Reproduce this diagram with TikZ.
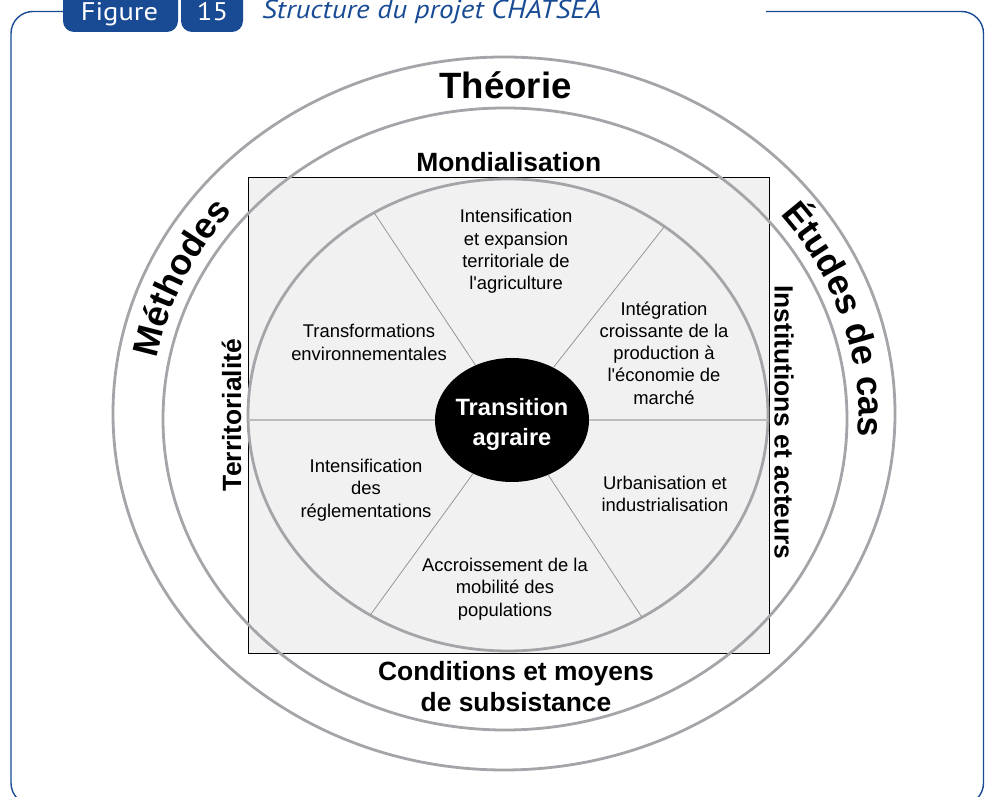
\documentclass[tikz,border=0pt]{standalone}
\usepackage{fontspec}
\usepackage{tikz}
\usetikzlibrary{shapes.geometric,decorations.text}
\newfontfamily\arialfont{Liberation Sans}
\newfontfamily\tabfont{PT Sans}[FakeStretch=1.12]
\definecolor{tabblue}{RGB}{24,75,148}
\definecolor{ringgray}{RGB}{163,165,168}
\definecolor{spokegray}{RGB}{150,150,150}
\definecolor{divgray}{RGB}{188,188,190}
\definecolor{boxgray}{RGB}{242,241,242}
\newcommand\bodyfont{\arialfont\fontsize{18.4}{22.3}\selectfont}
\newcommand\ringfont{\arialfont\bfseries\fontsize{36}{40}\selectfont}
\begin{document}
\begin{tikzpicture}[x=1pt,y=1pt,
  frame/.style={draw=tabblue,line width=1.4pt,rounded corners=22pt},
  tabtext/.style={text=white,font=\tabfont\fontsize{25.5}{30}\selectfont,inner sep=0pt},
  figtitle/.style={text=tabblue,font=\tabfont\itshape\fontsize{26}{28}\selectfont,inner sep=0pt},
  ring/.style={draw=ringgray,line width=2.8pt},
  spoke/.style={draw=spokegray,line width=0.8pt},
  divider/.style={draw=divgray,line width=1.6pt},
  hub/.style={ellipse,fill=black,minimum width=154pt,minimum height=124pt,inner sep=0pt},
  hubtext/.style={text=white,align=center,inner sep=0pt,font=\arialfont\bfseries\fontsize{23.6}{29.5}\selectfont},
  theme/.style={align=center,font=\bodyfont,inner sep=0pt},
  axislabel/.style={align=center,inner sep=0pt,font=\arialfont\bfseries\fontsize{26.4}{31}\selectfont},
  ringtext/.style={decorate,decoration={text along path,text align=center,text={|\ringfont|#1}}}]
\useasboundingbox (0,0) rectangle (985,797);
\draw[frame] (63,785.5) -- (11,785.5) -- (11,-8) -- (983.5,-8) -- (983.5,785.5) -- (766,785.5);
\fill[tabblue,rounded corners=11pt] (63,815) rectangle (178,765);
\fill[tabblue,rounded corners=11pt] (181,815) rectangle (243,765);
\node[tabtext,anchor=base] (fig) at (119.5,776) {Figure};
\node[tabtext,anchor=base] (num) at (212.5,776) {15};
\node[figtitle,anchor=base west] (ttl) at (262,778) {Structure du projet CHATSEA};
\draw[fill=boxgray,line width=1pt] (248,143) rectangle (769,619);
\draw[ring] (504,383.5) ellipse [x radius=391,y radius=356.5];
\draw[ring] (505,378) ellipse [x radius=342,y radius=311];
\draw[ring] (508,382) ellipse [x radius=260,y radius=236];
\node[hub] (ta) at (512,377) {};
\node[hubtext] (tatext) at ([yshift=-4.5pt]ta.center) {Transition\\agraire};
\path (508,382) ++(121:260 and 236) coordinate (s1);
\path (508,382) ++(53:260 and 236) coordinate (s2);
\path (508,382) ++(238:260 and 236) coordinate (s3);
\path (508,382) ++(301:260 and 236) coordinate (s4);
\coordinate (w) at (248,377);
\coordinate (e) at (768,377);
\foreach \s in {s1,s2,s3,s4} \draw[spoke] (ta) -- (\s);
\draw[divider] (w) -- (ta);
\draw[divider] (ta) -- (e);
\node[theme] (agri) at (516,545.5) {Intensification\\et expansion\\territoriale de\\l'agriculture};
\node[theme] (marche) at (664,444) {Intégration\\croissante de la\\production à\\l'économie de\\marché};
\node[theme] (envir) at (369,454.5) {Transformations\\environnementales};
\node[theme] (regle) at (366,307) {Intensification\\des\\réglementations};
\node[theme] (urba) at (665,303) {Urbanisation et\\industrialisation};
\node[theme] (mobil) at (505,208) {Accroissement de la\\mobilité des\\populations};
\node[axislabel,anchor=base,font=\arialfont\bfseries\fontsize{36.6}{40}\selectfont] (theo) at (505.5,698) {Théorie};
\node[axislabel,anchor=base] (mond) at (508.7,625.3) {Mondialisation};
\node[axislabel] (subs) at (516,110.3) {Conditions et moyens\\de subsistance};
\node[axislabel,rotate=90] (terr) at (231.5,382) {Territorialité};
\node[axislabel,rotate=-90] (inst) at (784,374.5) {Institutions et acteurs};
\path[ringtext=Méthodes] (505,381) ++(201:353.5 and 320.7) arc[start angle=201,end angle=111,x radius=353.5,y radius=320.7];
\path[ringtext=Études de cas] (505,381) ++(62:353.5 and 320.7) arc[start angle=62,end angle=-28,x radius=353.5,y radius=320.7];
\end{tikzpicture}
\end{document}
